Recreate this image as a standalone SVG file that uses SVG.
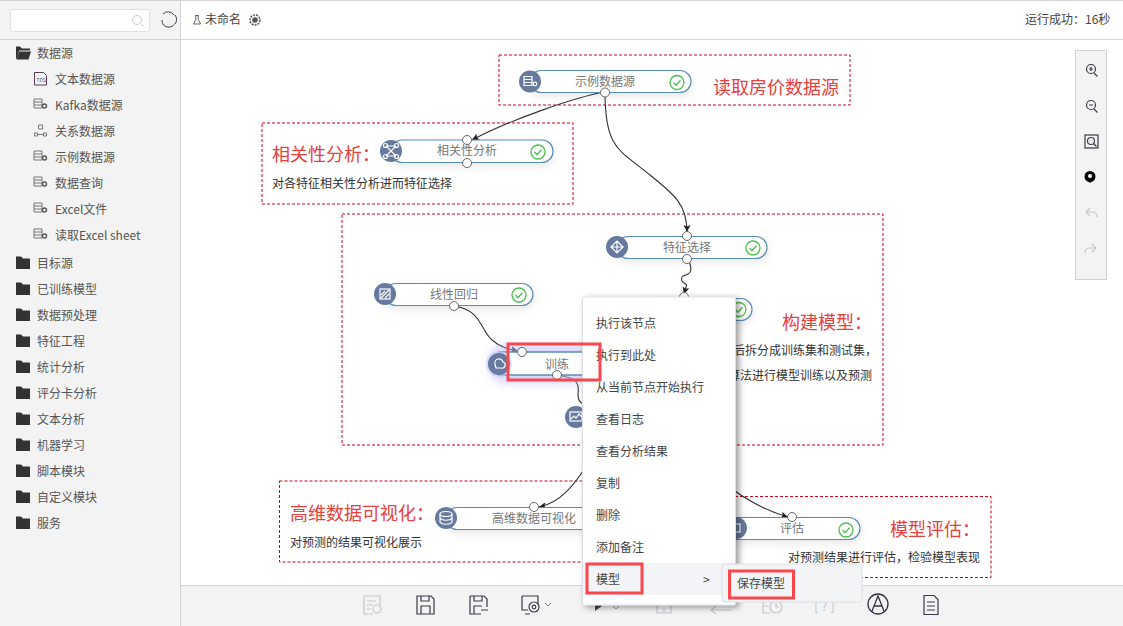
<svg xmlns="http://www.w3.org/2000/svg" width="1123" height="626" viewBox="0 0 1123 626">
<style>
text{font-family:"Noto Sans CJK SC","Liberation Sans",sans-serif;font-size:12px;fill:#444}
.side{fill:#555}
.nl{fill:#777;text-anchor:middle}
.h{font-size:18px;fill:#e8403c}
.d{fill:#333}
.box{fill:none;stroke:#d0021b;stroke-dasharray:3 2;stroke-width:1}
.pill{fill:#fff;stroke:#5a8db4;stroke-width:1.2;filter:url(#sh)}
.ic{fill:#657a9e}
.iw{fill:none;stroke:#fff;stroke-width:1.2}
.port{fill:#fff;stroke:#666;stroke-width:1}
.chk{fill:none;stroke:#4cc04c;stroke-width:1.3}
.con{fill:none;stroke:#333;stroke-width:1.1;marker-end:url(#ar)}
.red{fill:none;stroke:#f9474c;stroke-width:3}
.m{fill:#444}
.ti{fill:none;stroke:#3a3a4a;stroke-width:1.2}
.tg{fill:none;stroke:#c4c8cc;stroke-width:1.2}
.sic{fill:none;stroke:#777;stroke-width:1}
</style>
<defs>
<marker id="ar" markerWidth="8" markerHeight="8" refX="7" refY="4" orient="auto" markerUnits="userSpaceOnUse"><path d="M0,0.500L7,4L0,7.500L1.500,4Z" fill="#222"/></marker>
<filter id="sh" x="-10%" y="-40%" width="120%" height="200%"><feDropShadow dx="0" dy="3" stdDeviation="4" flood-color="#000" flood-opacity="0.1"/></filter>
<filter id="ms" x="-10%" y="-10%" width="125%" height="120%"><feDropShadow dx="3" dy="2" stdDeviation="3" flood-color="#000" flood-opacity="0.4"/></filter>
<filter id="gl" x="-100%" y="-100%" width="300%" height="300%"><feGaussianBlur stdDeviation="5"/></filter>
<g id="db"><path d="M-6,-5h8v9h-8zM-6,-2h8M-6,1h8" class="sic"/><circle cx="4.500" cy="2" r="2" fill="none" stroke="#555" stroke-width="1.400"/></g>
<g id="folder"><path d="M16,256.500h5l2,2h7v10.500h-14z" fill="#333"/></g>
<g id="chk"><circle r="7" class="chk"/><path d="M-3.500,0l2.500,2.800l4.500,-5" class="chk"/></g>
</defs>
<rect width="1123" height="626" fill="#fff"/>

<g id="sidebar">
<rect x="0" y="0" width="180" height="626" fill="#f3f3f3"/>
<path d="M0,0.500H1123M0,39.500H1123M180.500,0V626" stroke="#d4d4d4" fill="none"/>
<rect x="10.500" y="9.500" width="139" height="22" rx="3" fill="#fff" stroke="#dde0e6"/>
<circle cx="137" cy="20" r="4.500" fill="none" stroke="#ccc"/><path d="M140.500,23.500l3,3" stroke="#ccc"/>
<path d="M163,14a7,7 0 0 1 11,1M174.500,24a7,7 0 0 1 -11,1M162,20a7,7 0 0 0 1.500,5M175,15a7,7 0 0 1 0,9" fill="none" stroke="#445" stroke-width="1"/>
<path d="M16,46.500h4l2,2h8v2h-11l-2,8h-1z" fill="#333"/><path d="M19,51.500h12l-2.500,8h-12z" fill="#333"/><text class="side" x="37" y="58">数据源</text>
<path d="M34.500,72.500h9l3,3v9.500h-12z" fill="none" stroke="#5a3a5a"/><text x="36.500" y="82" style="font-size:5px" class="side">TDS</text>
<text class="side" x="55" y="84">文本数据源</text>
<use href="#db" x="40" y="104"/><text class="side" x="55" y="110">Kafka数据源</text>
<path d="M38.500,125h4v4h-4zM34.500,133h3v3h-3zM43.500,133h3v3h-3zM37.500,134.500h6" class="sic"/><text class="side" x="55" y="136">关系数据源</text>
<use href="#db" x="40" y="156"/><text class="side" x="55" y="162">示例数据源</text>
<use href="#db" x="40" y="182"/><text class="side" x="55" y="188">数据查询</text>
<use href="#db" x="40" y="208"/><text class="side" x="55" y="214">Excel文件</text>
<use href="#db" x="40" y="234"/><text class="side" x="55" y="240">读取Excel sheet</text>
<use href="#folder"/><text class="side" x="37" y="268">目标源</text>
<use href="#folder" y="26"/><text class="side" x="37" y="294">已训练模型</text>
<use href="#folder" y="52"/><text class="side" x="37" y="320">数据预处理</text>
<use href="#folder" y="78"/><text class="side" x="37" y="346">特征工程</text>
<use href="#folder" y="104"/><text class="side" x="37" y="372">统计分析</text>
<use href="#folder" y="130"/><text class="side" x="37" y="398">评分卡分析</text>
<use href="#folder" y="156"/><text class="side" x="37" y="424">文本分析</text>
<use href="#folder" y="182"/><text class="side" x="37" y="450">机器学习</text>
<use href="#folder" y="208"/><text class="side" x="37" y="476">脚本模块</text>
<use href="#folder" y="234"/><text class="side" x="37" y="502">自定义模块</text>
<use href="#folder" y="260"/><text class="side" x="37" y="528">服务</text>
</g>

<g id="header">
<path d="M195,15.500h4M195.800,15.500v4l-2.300,4.500h7l-2.300,-4.500v-4" fill="none" stroke="#666"/>
<text x="205" y="24">未命名</text>
<circle cx="255" cy="20" r="5" fill="none" stroke="#555" stroke-width="1.500" stroke-dasharray="2 1"/><circle cx="255" cy="20" r="2.800" fill="#555"/>
<text x="1025" y="24">运行成功：16秒</text>
</g>

<g id="annotations">
<rect class="box" x="499" y="55" width="351" height="50"/>
<rect class="box" x="262" y="123" width="311" height="81"/>
<rect class="box" x="342" y="214" width="541" height="231"/>
<rect class="box" x="279.500" y="481" width="340" height="81"/>
<rect class="box" x="700" y="496.500" width="291" height="81"/>
<text class="h" x="713" y="94">读取房价数据源</text>
<text class="h" x="272" y="161">相关性分析：</text>
<text class="d" x="272" y="188">对各特征相关性分析进而特征选择</text>
<text class="h" x="782" y="329">构建模型：</text>
<text class="d" x="733" y="355">后拆分成训练集和测试集，</text>
<text class="d" x="728" y="380">算法进行模型训练以及预测</text>
<text class="h" x="290" y="520">高维数据可视化：</text>
<text class="d" x="290" y="547">对预测的结果可视化展示</text>
<text class="h" x="890" y="536">模型评估：</text>
<text class="d" x="788" y="562">对预测结果进行评估，检验模型表现</text>
</g>

<g id="connectors">
<path class="con" d="M605,92C575,97 510,120 472,140"/>
<path class="con" d="M605,92C605,150 620,150 650,175C675,195 687,205 687,232"/>
<path class="con" d="M687,258C692,265 692,272 688,274C684,276 680,276 682,281C684,285 688,283 686,287L684,294"/>
<path class="con" d="M454,306C482,310 480,330 492,340C500,347 508,349 518,351"/>
<path class="con" d="M557,375C575,378 580,380 578,395C578,402 582,404 590,408"/>
<path class="con" d="M590,460C575,485 560,503 539,507"/>
<path class="con" d="M720,480C745,500 770,512 788,517"/>
</g>

<g id="node-sample"><rect class="pill" x="530" y="70.500" width="161" height="22" rx="11"/><circle class="ic" cx="530" cy="81.500" r="11"/><path class="iw" d="M524,76.500h8v9h-8zM524,79.500h8M524,82.500h8"/><circle cx="535" cy="84" r="1.800" fill="none" stroke="#fff" stroke-width="1.200"/><text class="nl" x="605" y="86">示例数据源</text><use href="#chk" x="677" y="82.500"/><circle class="port" cx="605" cy="92.500" r="4.500"/></g>
<g id="node-corr"><rect class="pill" x="391" y="140" width="162" height="22.500" rx="11"/><circle class="ic" cx="391" cy="151" r="11"/><path class="iw" d="M386,146l10,10M396,146l-10,10M386,146h10M386,156h10"/><circle class="iw" cx="385.500" cy="145.500" r="2"/><circle class="iw" cx="396.500" cy="145.500" r="2"/><circle class="iw" cx="385.500" cy="156.500" r="2"/><circle class="iw" cx="396.500" cy="156.500" r="2"/><text class="nl" x="467" y="155">相关性分析</text><use href="#chk" x="538" y="152"/><circle class="port" cx="467" cy="140" r="4.500"/><circle class="port" cx="467" cy="163" r="4.500"/></g>
<g id="node-select"><rect class="pill" x="617" y="236.500" width="150" height="22" rx="11"/><circle class="ic" cx="617" cy="247" r="11"/><path class="iw" d="M617,241l6,6l-6,6l-6,-6zM611,247h12M617,241v12"/><text class="nl" x="687" y="252">特征选择</text><use href="#chk" x="753" y="248"/><circle class="port" cx="687" cy="236" r="4.500"/><circle class="port" cx="687" cy="259" r="4.500"/></g>
<g id="node-split"><rect class="pill" x="640" y="298.500" width="112" height="22" rx="11"/><use href="#chk" x="739" y="309.500"/><circle class="port" cx="684" cy="297" r="4.500"/></g>
<g id="node-linear"><rect class="pill" x="385" y="283.500" width="148" height="22" rx="11"/><circle class="ic" cx="385" cy="294" r="11"/><rect class="iw" x="380" y="289" width="10" height="10"/><path class="iw" d="M381,298l8,-8M381,295l4,-4M385,298l4,-4"/><text class="nl" x="454" y="299">线性回归</text><use href="#chk" x="519" y="295"/><circle class="port" cx="454" cy="306" r="4.500"/></g>
<g id="node-train"><rect x="490" y="345" width="110" height="38" rx="15" fill="#b8b8ff" opacity="0.6" filter="url(#gl)"/><rect x="499" y="352" width="110" height="23" fill="#fff" stroke="#5a8db4" stroke-width="1.500"/><circle cx="499" cy="364" r="13" fill="#c8c8ff" opacity="0.6"/><circle class="ic" cx="499" cy="364" r="11"/><path class="iw" d="M495,364a4,4 0 0 1 8,-2a3,3 0 0 1 -2,6h-5z"/><text class="nl" x="557" y="369">训练</text><circle class="port" cx="522" cy="352" r="4.500"/><circle class="port" cx="557" cy="375" r="4.500"/></g>
<g id="node-predict"><circle class="ic" cx="576" cy="417" r="11"/><rect class="iw" x="570" y="412" width="12" height="9"/><path class="iw" d="M571,419l3,-3l2,2l3,-4l3,3"/></g>
<g id="node-viz"><rect class="pill" x="446" y="507.500" width="170" height="22" rx="11"/><circle class="ic" cx="446" cy="518" r="11"/><ellipse class="iw" cx="446" cy="514" rx="6" ry="2.500"/><path class="iw" d="M440,514v8c2,3 10,3 12,0v-8M440,518c2,3 10,3 12,0"/><text class="nl" x="534" y="523">高维数据可视化</text><circle class="port" cx="534" cy="507" r="4.500"/></g>
<g id="node-eval"><rect class="pill" x="725" y="517.500" width="135" height="22" rx="11"/><circle class="ic" cx="736" cy="528" r="11"/><rect class="iw" x="732" y="524" width="8" height="8"/><text class="nl" x="792" y="533">评估</text><use href="#chk" x="846" y="530"/><circle class="port" cx="792" cy="517" r="4.500"/></g>

<g id="toolbar">
<rect x="181" y="586" width="942" height="40" fill="#f3f3f3"/>
<path d="M181,585.500H1123" stroke="#d4d4d4"/>
<path class="tg" d="M364,596h16v10M364,596v18h9M367,601h9M367,605h6M367,609h4"/><circle class="tg" cx="377" cy="609" r="4"/>
<path class="ti" d="M417,596h14l3,3v15h-17zM421,596v5h8v-5M421,614v-8h9v8"/>
<path class="ti" d="M470,596h14l3,3v8M470,596v18h11M474,596v5h8v-5M474,614v-8h8M481,610h7"/>
<path class="ti" d="M522,596h16v8M522,596v14h6M525,614h5"/><circle class="ti" cx="534" cy="607" r="5"/><circle class="ti" cx="534" cy="607" r="1.800"/><path d="M545,603l3,3l3,-3" fill="none" stroke="#777"/>
<path d="M595,603l7,3l-7,5z" fill="#445"/><path d="M613,606l3,3l3,-3" fill="none" stroke="#999"/>
<path class="tg" d="M657,600h14v13h-14zM664,613v-5"/>
<path class="tg" d="M711,610h20M716,606l-5,4l5,4"/>
<path class="tg" d="M763,600h7M763,600v13h7M763,606h6"/><circle class="tg" cx="776" cy="607" r="6"/><path class="tg" d="M776,603v4h3"/>
<text x="814" y="611" style="font-size:13px;fill:#c4c8cc">[ ? ]</text>
<circle cx="878" cy="604" r="10" fill="none" stroke="#334" stroke-width="1.300"/><path d="M872,611l6,-15l6,15M874,606h8" fill="none" stroke="#334" stroke-width="1.300"/>
<path class="ti" d="M924,595.500h10l4,4v15h-14zM927,602h8M927,606h8M927,610h8"/>
</g>

<g id="zoombar">
<rect x="1075.500" y="50.500" width="31" height="229" fill="#f3f3f3" stroke="#d2d2d2"/>
<circle class="ti" cx="1091" cy="69" r="4.500"/><path class="ti" d="M1094,73l3.500,3.500M1089,69h4M1091,67v4"/>
<circle class="ti" cx="1091" cy="105" r="4.500"/><path class="ti" d="M1094,109l3.500,3.500M1089,105h4"/>
<rect class="ti" x="1085" y="135" width="13" height="13"/><circle class="ti" cx="1091" cy="141" r="3.500"/><path class="ti" d="M1093.500,143.500l3,3"/>
<path d="M1090,171a5,5 0 0 1 0,11a5,5 0 0 1 0,-11z" fill="#000"/><path d="M1086.500,179.500l3.500,3.500l3.500,-3.500z" fill="#000"/><circle cx="1090" cy="176" r="2" fill="#fff"/>
<path class="tg" d="M1086,212l4,-4M1086,212l4,4M1086,212h7c3,0 4,3 4,5"/>
<path class="tg" d="M1096,248l-4,-4M1096,248l-4,4M1096,248h-7c-3,0 -4,3 -4,5"/>
</g>

<g id="menu">
<rect x="582.500" y="297" width="153" height="308" rx="2" fill="#fff" stroke="#dcdfe8" filter="url(#ms)"/>
<rect x="583" y="563" width="152" height="32" fill="#f3f4f8"/>
<text class="m" x="596" y="328">执行该节点</text>
<text class="m" x="596" y="360">执行到此处</text>
<text class="m" x="596" y="392">从当前节点开始执行</text>
<text class="m" x="596" y="424">查看日志</text>
<text class="m" x="596" y="456">查看分析结果</text>
<text class="m" x="596" y="488">复制</text>
<text class="m" x="596" y="520">删除</text>
<text class="m" x="596" y="552">添加备注</text>
<text class="m" x="596" y="584">模型</text>
<text class="m" x="703" y="584">&gt;</text>
<rect class="red" x="587" y="564" width="55" height="29"/>
<rect x="722" y="564" width="140" height="38" rx="3" fill="#f3f4f6" stroke="#dcdfe8"/>
<text class="m" x="737" y="588">保存模型</text>
<rect class="red" x="729.500" y="571" width="64" height="27"/>
</g>
<rect class="red" x="508" y="344" width="92" height="36"/>
</svg>
